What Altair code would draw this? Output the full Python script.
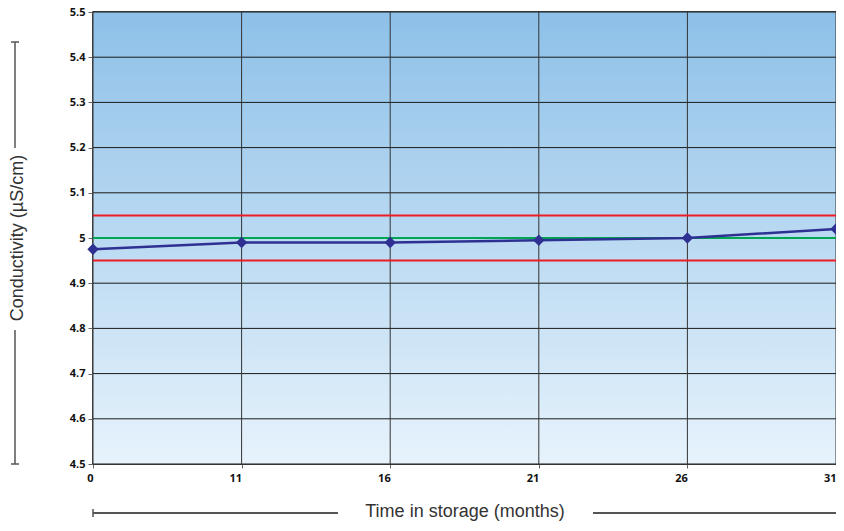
import altair as alt
import pandas as pd

months = ["0", "11", "16", "21", "26", "31"]
conductivity = [4.975, 4.99, 4.99, 4.995, 5.0, 5.02]
y_ticks = [4.5, 4.6, 4.7, 4.8, 4.9, 5.0, 5.1, 5.2, 5.3, 5.4, 5.5]
upper_limit = 5.05
nominal = 5.0
lower_limit = 4.95

W, H = 743, 452

df = pd.DataFrame({"month": months, "value": conductivity})
ydf = pd.DataFrame({"v": y_ticks})
xdf = pd.DataFrame({"month": months})
refs = pd.DataFrame({"v": [upper_limit, nominal, lower_limit], "kind": ["upper", "nominal", "lower"]})

xscale = alt.Scale(type="point", padding=0, domain=months)
yscale = alt.Scale(domain=[4.5, 5.5], nice=False, zero=False)

X = alt.X("month:O", scale=xscale, sort=months,
          axis=alt.Axis(title=None, labelAngle=0, labelFont="Open Sans", labelFontWeight="bold",
                        labelFontSize=11, labelColor="#111", labelPadding=10, tickSize=4,
                        tickColor="#666", domain=False, grid=False))
Y = alt.Y("value:Q", scale=yscale,
          axis=alt.Axis(title=None, values=y_ticks, format="~g", labelFont="Open Sans",
                        labelFontWeight="bold", labelFontSize=11, labelColor="#111",
                        labelPadding=3, tickSize=5, tickColor="#666", domain=False, grid=False))

one = pd.DataFrame({"a": [0]})
gradient = {"gradient": "linear", "x1": 0, "y1": 0, "x2": 0, "y2": 1,
            "stops": [{"offset": 0, "color": "#8dc0e8"}, {"offset": 1, "color": "#e7f3fc"}]}
bg = alt.Chart(one).mark_rect(fill=gradient).encode(
    x=alt.value(0), x2=alt.value(W), y=alt.value(0), y2=alt.value(H))

hgrid = alt.Chart(ydf).mark_rule(color="#1a1a1a", strokeWidth=1).encode(
    y=alt.Y("v:Q", scale=yscale))
vgrid = alt.Chart(xdf).mark_rule(color="#333", strokeWidth=1).encode(
    x=alt.X("month:O", scale=xscale, sort=months))

ref_lines = alt.Chart(refs).mark_rule(strokeWidth=2).encode(
    y=alt.Y("v:Q", scale=yscale),
    color=alt.Color("kind:N", scale=alt.Scale(domain=["upper", "nominal", "lower"],
                                              range=["#ed1c24", "#00a651", "#ed1c24"]), legend=None))

line = alt.Chart(df).mark_line(color="#2e3192", strokeWidth=2.5).encode(x=X, y=Y)
pts = alt.Chart(df).mark_point(shape="diamond", filled=True, size=130, color="#2e3192", opacity=1).encode(
    x=alt.X("month:O", scale=xscale, sort=months), y=alt.Y("value:Q", scale=yscale))

deco_color = "#555"
ytitle = alt.Chart(one).mark_text(text="Conductivity (µS/cm)", angle=270, font="Liberation Sans",
                                  fontSize=18, color="#333", align="center", baseline="middle").encode(
    x=alt.value(-75), y=alt.value(226))
xtitle = alt.Chart(one).mark_text(text="Time in storage (months)", font="Liberation Sans",
                                  fontSize=18, color="#333", align="center", baseline="middle").encode(
    x=alt.value(372), y=alt.value(500))

def seg(x1, y1, x2, y2, w=1.5):
    return alt.Chart(one).mark_rule(color=deco_color, strokeWidth=w).encode(
        x=alt.value(x1), y=alt.value(y1), x2=alt.value(x2), y2=alt.value(y2))

decos = [
    seg(-78, 30, -78, 136), seg(-78, 318, -78, 452),
    seg(-82, 30, -74, 30), seg(-82, 452, -74, 452),
    seg(0, 501, 245, 501, 2), seg(500, 501, 760, 501, 2),
    seg(0, 497, 0, 505),
]

chart = alt.layer(bg, hgrid, vgrid, ref_lines, line, pts, ytitle, xtitle, *decos).properties(
    width=W, height=H,
    padding={"left": 85, "top": 4, "right": 0, "bottom": 59},
    autosize=alt.AutoSizeParams(type="none"),
).configure_view(stroke="#111", strokeWidth=1.5)

chart.save("out.html", embed_options={"renderer": "svg", "actions": False})
